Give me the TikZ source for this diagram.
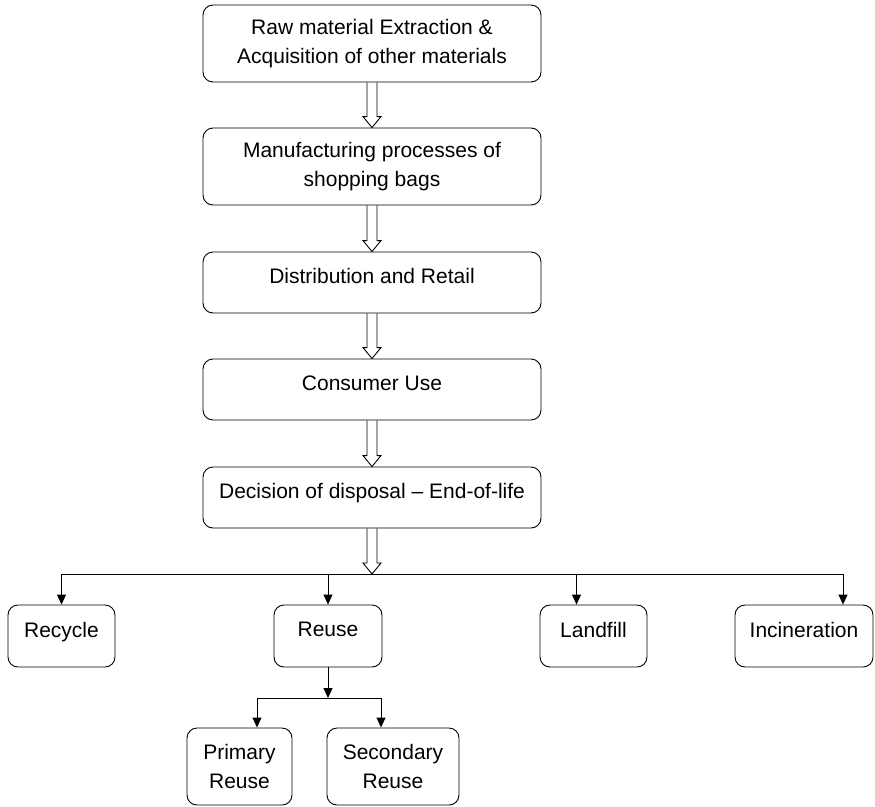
\documentclass[tikz,border=0pt]{standalone}
\usepackage{fontspec}
\setmainfont{Liberation Sans}
\usepackage{tikz}
\usetikzlibrary{arrows.meta}

\tikzset{
  stagebox/.style={draw, line width=0.9pt, rounded corners=10pt, minimum width=338pt, align=center, inner sep=0pt},
  endbox/.style={draw, line width=0.9pt, rounded corners=10pt, minimum height=62pt, align=center, inner sep=0pt, raised},
  reusebox/.style={draw, line width=0.9pt, rounded corners=10pt, minimum height=77pt, align=center, inner sep=0pt},
  raised/.style={text depth=13pt},
  drop/.style={line width=0.9pt, -{Triangle[length=10pt,width=9pt]}}
}
% hollow block arrow between two stages
\newcommand{\hollowarrow}[2]{%
  \draw [line width=0.9pt] ([xshift=-5pt]#1) -- ([xshift=-5pt,yshift=-11pt]#2) -- ([xshift=-9pt,yshift=-11pt]#2) -- (#2)
    -- ([xshift=9pt,yshift=-11pt]#2) -- ([xshift=5pt,yshift=-11pt]#2) -- ([xshift=5pt]#1);}

\begin{document}
\begin{tikzpicture}[x=1pt,y=1pt,yscale=-1,xscale=1]
\fontsize{21}{29}\selectfont
\useasboundingbox (0,0) rectangle (875,806);

% Stage Nodes
\node [stagebox, minimum height=77pt] (raw) at (372,43.5) {Raw material Extraction \&\\Acquisition of other materials};
\node [stagebox, minimum height=77pt] (manuf) at (372,166.5) {Manufacturing processes of\\shopping bags};
\node [stagebox, minimum height=61pt, raised] (distr) at (372,282.5) {Distribution and Retail};
\node [stagebox, minimum height=61pt, raised] (consumer) at (372,389.5) {Consumer Use};
\node [stagebox, minimum height=61pt, raised] (decision) at (372,497.5) {Decision of disposal -- End-of-life};

% Block Arrows
\hollowarrow{raw.south}{manuf.north}
\hollowarrow{manuf.south}{distr.north}
\hollowarrow{distr.south}{consumer.north}
\hollowarrow{consumer.south}{decision.north}
\coordinate (split) at (372,574);
\hollowarrow{decision.south}{split}

% End-of-life Nodes
\node [endbox, minimum width=107pt] (recycle) at (61.5,636) {Recycle};
\node [endbox, minimum width=108pt] (reuse) at (328,636) {Reuse};
\node [endbox, minimum width=107pt] (landfill) at (593.5,636) {Landfill};
\node [endbox, minimum width=138pt] (incin) at (804,636) {Incineration};

% Branch Lines
\draw [drop] (split) -| (recycle.north);
\draw [drop] (split) -| (reuse.north);
\draw [drop] (split) -| ([xshift=-17pt]landfill.north);
\draw [drop] (split) -| ([xshift=39pt]incin.north);

% Reuse Nodes
\node [reusebox, minimum width=105pt] (primary) at (239.5,766.5) {Primary\\Reuse};
\node [reusebox, minimum width=132pt] (secondary) at (393,766.5) {Secondary\\Reuse};

\coordinate (reusesplit) at (328,698);
\draw [drop] (reuse.south) -- (reusesplit);
\draw [drop] (reusesplit) -| ([xshift=17.5pt]primary.north);
\draw [drop] (reusesplit) -| ([xshift=-12pt]secondary.north);
\end{tikzpicture}
\end{document}
